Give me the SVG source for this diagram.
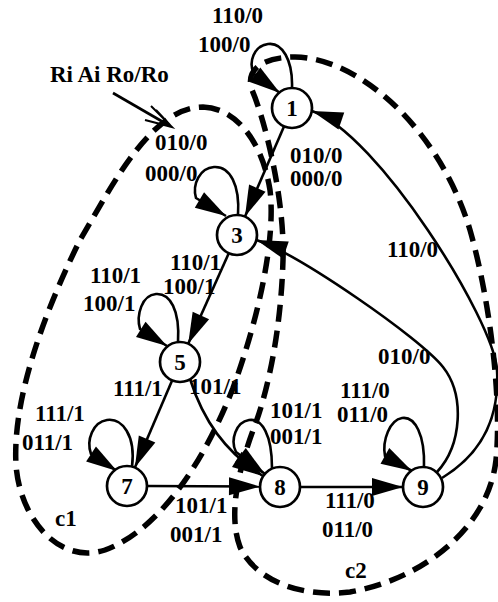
<svg xmlns="http://www.w3.org/2000/svg" width="498" height="602" viewBox="0 0 498 602">
<defs>
<style>
.edge{fill:none;stroke:#000;stroke-width:2.6}
.arr{marker-end:url(#ah)}
.node circle{fill:#fff;stroke:#000;stroke-width:2.7}
.lbl{font-family:"Liberation Serif","Times New Roman",serif;font-size:23px;font-weight:bold;fill:#000}
.num{text-anchor:middle}
.cluster{fill:none;stroke:#000;stroke-width:5.5;stroke-dasharray:17 9}
</style>
<marker id="ah" markerUnits="userSpaceOnUse" markerWidth="34" markerHeight="20" refX="31" refY="9" orient="auto" overflow="visible"><path d="M0,0 L31,9 L0,18 Z" fill="#000"/></marker>
</defs>
<rect width="498" height="602" fill="#fff"/>

<!-- state clusters -->
<g id="clusters">
<path id="c1" class="cluster" d="M203,107 C235,108 262,140 270,190 C276,240 258,320 233,388 C205,460 160,530 105,550 C60,565 20,520 16,465 C12,395 48,305 80,240 C110,190 150,107 203,107 Z"/>
<path id="c2" class="cluster" d="M283,260 C285,200 265,120 252,90 C245,70 262,57 295,57 C360,58 440,130 470,230 C490,300 502,400 496,460 C488,530 420,580 350,592 C300,598 255,580 240,547 C228,515 238,470 255,425 C268,390 281,330 283,260 Z"/>
<text class="lbl" x="55" y="526">c1</text>
<text class="lbl" x="345" y="578">c2</text>
</g>

<!-- transitions -->
<g id="connectors">
<path class="edge arr" d="M284,126.4 L245,216.6"/>
<path class="edge arr" d="M228.8,253.2 L188.2,343.8"/>
<path class="edge arr" d="M172.1,380.4 L134.9,467.6"/>
<path class="edge arr" d="M147,486 L260,486.5"/>
<path class="edge arr" d="M300,487 L403,487"/>
<path class="edge arr" d="M190,379 C203,420 225,452 263,476"/>
<path class="edge arr" d="M437,472 C462,445 465,395 443,367 C420,338 300,255 256.5,240"/>
<path class="edge arr" d="M442,478 C480,455 500,420 497,370 C494,320 377,133 312,111"/>
<!-- self loops -->
<path class="edge arr" d="M292,88 C293,60 282,42 268,44 C254,46 248,62 254,74 L280,93"/>
<path class="edge arr" d="M238,215 C240,185 230,166 214,167 C200,168 192,184 196,198 L226,216"/>
<path class="edge arr" d="M178,342 C180,310 170,293 156,294 C142,295 136,315 140,329 L167,346"/>
<path class="edge arr" d="M132,467 C136,435 122,418 107,420 C93,422 86,440 91,454 L117,471"/>
<path class="edge arr" d="M272,468 C272,435 262,418 249,420 C236,422 230,440 236,452 L265,474"/>
<path class="edge arr" d="M424,467 C425,435 415,416 402,418 C390,420 382,440 385,456 L412,471"/>
<!-- legend pointer -->
<path class="edge" d="M113,93 L170,126"/>
<path d="M151,106 L172,127 L145,120 M156,110 L170,125" fill="none" stroke="#000" stroke-width="2"/>
</g>

<!-- transition labels -->
<g id="labels">
<text class="lbl" x="212" y="23">110/0</text>
<text class="lbl" x="198" y="52">100/0</text>
<text class="lbl" x="50" y="82">Ri Ai Ro/Ro</text>
<text class="lbl" x="155" y="150">010/0</text>
<text class="lbl" x="145" y="181">000/0</text>
<text class="lbl" x="290" y="163">010/0</text>
<text class="lbl" x="290" y="186">000/0</text>
<text class="lbl" x="387" y="257">110/0</text>
<text class="lbl" x="378" y="364">010/0</text>
<text class="lbl" x="170" y="270">110/1</text>
<text class="lbl" x="163" y="294">100/1</text>
<text class="lbl" x="90" y="283">110/1</text>
<text class="lbl" x="83" y="311">100/1</text>
<text class="lbl" x="113" y="396">111/1</text>
<text class="lbl" x="189" y="394">101/1</text>
<text class="lbl" x="35" y="421">111/1</text>
<text class="lbl" x="22" y="450">011/1</text>
<text class="lbl" x="175" y="513">101/1</text>
<text class="lbl" x="170" y="542">001/1</text>
<text class="lbl" x="270" y="418">101/1</text>
<text class="lbl" x="270" y="444">001/1</text>
<text class="lbl" x="340" y="398">111/0</text>
<text class="lbl" x="337" y="422">011/0</text>
<text class="lbl" x="325" y="508">111/0</text>
<text class="lbl" x="322" y="537">011/0</text>
</g>

<!-- states -->
<g id="n1" class="node"><circle cx="292" cy="108" r="20"/><text class="lbl num" x="292" y="116">1</text></g>
<g id="n3" class="node"><circle cx="237" cy="235" r="20"/><text class="lbl num" x="237" y="243">3</text></g>
<g id="n5" class="node"><circle cx="180" cy="362" r="20"/><text class="lbl num" x="180" y="370">5</text></g>
<g id="n7" class="node"><circle cx="127" cy="486" r="20"/><text class="lbl num" x="127" y="494">7</text></g>
<g id="n8" class="node"><circle cx="280" cy="487" r="20"/><text class="lbl num" x="280" y="495">8</text></g>
<g id="n9" class="node"><circle cx="423" cy="487" r="20"/><text class="lbl num" x="423" y="495">9</text></g>
</svg>
